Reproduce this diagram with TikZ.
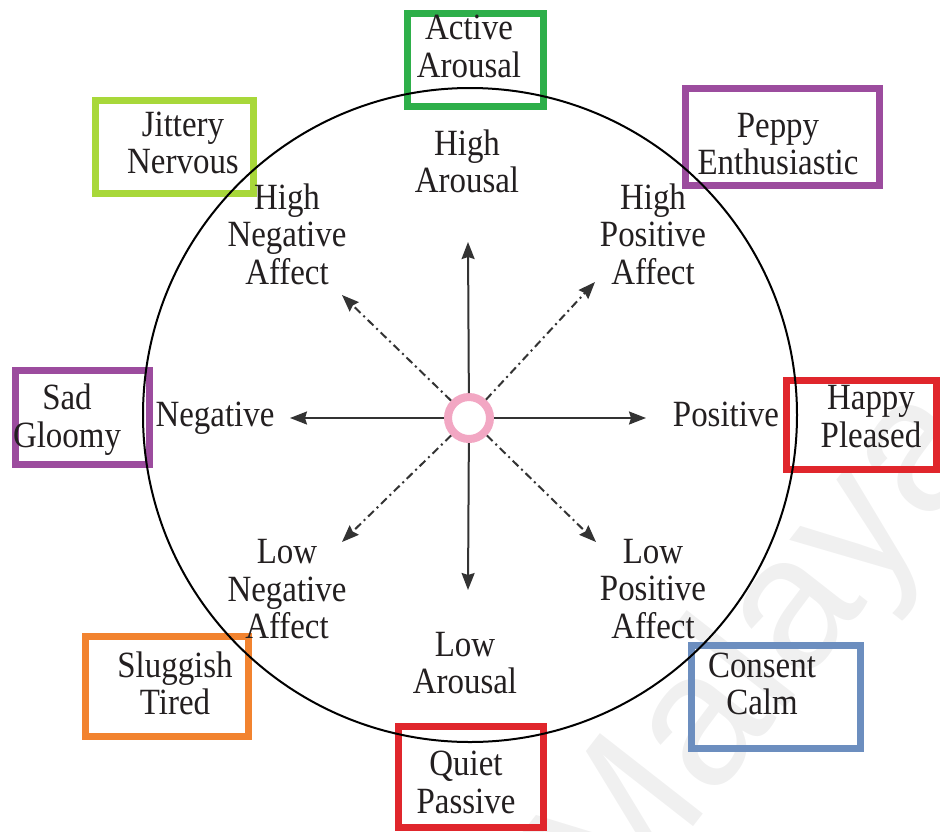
\documentclass[tikz,border=0pt]{standalone}
\usepackage{fontspec}
\setmainfont{Liberation Serif}[FakeStretch=0.89]
\newfontfamily\wmfont{Liberation Sans}
\usetikzlibrary{arrows.meta}
\definecolor{cgreen}{HTML}{2EAF4A}
\definecolor{clime}{HTML}{A8D83A}
\definecolor{cpurple}{HTML}{9C4C9E}
\definecolor{cred}{HTML}{E0262C}
\definecolor{corange}{HTML}{F2832F}
\definecolor{cblue}{HTML}{6C8EBF}
\definecolor{cpink}{HTML}{F2A7C3}
\definecolor{txt}{HTML}{231F20}
\definecolor{arrowc}{HTML}{333333}
\begin{document}
\begin{tikzpicture}[x=1pt,y=-1pt,
  lbl/.style={font=\fontsize{37}{37.5}\selectfont, align=center, inner sep=0pt, text=txt},
  box/.style={draw=#1, line width=7pt, rectangle, inner sep=0pt, outer sep=0pt},
  axis/.style={draw=arrowc, line width=2pt, -{Stealth[length=17pt,width=13pt,inset=2pt]}},
  diag/.style={axis, dash pattern=on 8pt off 4pt on 2pt off 4pt}
]
\useasboundingbox (0,0) rectangle (940,831);
\fill[white] (0,0) rectangle (940,831);
% watermark
\node[font=\wmfont\fontsize{190}{190}\selectfont, text=black, opacity=0.06, rotate=52, inner sep=0pt] (wm) at (765,655) {Malaya};
% boxes
\node[box=cgreen, minimum width=136pt, minimum height=93pt] (bActive) at (475.5,60) {};
\node[box=clime, minimum width=158pt, minimum height=93pt] (bJittery) at (174.5,147) {};
\node[box=cpurple, minimum width=194pt, minimum height=97pt] (bPeppy) at (782.5,137) {};
\node[box=cpurple, minimum width=134pt, minimum height=94pt] (bSad) at (82.5,417.5) {};
\node[box=cred, minimum width=150pt, minimum height=89pt] (bHappy) at (861.5,425) {};
\node[box=corange, minimum width=163pt, minimum height=100pt] (bSluggish) at (167,686.5) {};
\node[box=cblue, minimum width=169pt, minimum height=103pt] (bConsent) at (776,697) {};
\node[box=cred, minimum width=145pt, minimum height=101pt] (bQuiet) at (471,777) {};
% big circle
\node[circle, draw=black, line width=2pt, minimum size=654pt, inner sep=0pt] (big) at (470,415) {};
% centre ring
\node[circle, draw=cpink, line width=8pt, fill=white, minimum size=42pt, inner sep=0pt] (ring) at (469,418) {};
% arrow tips
\coordinate (tU) at (468,242);
\coordinate (tD) at (468,590);
\coordinate (tL) at (290,418);
\coordinate (tR) at (646,418);
\coordinate (tUL) at (342,295);
\coordinate (tUR) at (595,282);
\coordinate (tDL) at (342,542);
\coordinate (tDR) at (596,542);
\draw[axis] (ring) -- (tU);
\draw[axis] (ring) -- (tD);
\draw[axis] (ring) -- (tL);
\draw[axis] (ring) -- (tR);
\draw[diag] (ring) -- (tUL);
\draw[diag] (ring) -- (tUR);
\draw[diag] (ring) -- (tDL);
\draw[diag] (ring) -- (tDR);
% box texts
\node[lbl] (tActive) at (469,51) {\strut Active\\\strut Arousal};
\node[lbl] (tJittery) at (183,147.5) {\strut Jittery\\\strut Nervous};
\node[lbl] (tPeppy) at (778,148.5) {\strut Peppy\\\strut Enthusiastic};
\node[lbl] (tSad) at (67,421) {\strut Sad\\\strut Gloomy};
\node[lbl] (tHappy) at (871,421) {\strut Happy\\\strut Pleased};
\node[lbl] (tSluggish) at (175,688.5) {\strut Sluggish\\\strut Tired};
\node[lbl] (tConsent) at (762,688.5) {\strut Consent\\\strut Calm};
\node[lbl] (tQuiet) at (466,787) {\strut Quiet\\\strut Passive};
% inner labels
\node[lbl] (lHA) at (467,166.5) {\strut High\\\strut Arousal};
\node[lbl] (lHNA) at (287,239) {\strut High\\\strut Negative\\\strut Affect};
\node[lbl] (lHPA) at (653,239) {\strut High\\\strut Positive\\\strut Affect};
\node[lbl] (lNeg) at (215,418.5) {\strut Negative};
\node[lbl] (lPos) at (726,418.5) {\strut Positive};
\node[lbl] (lLNA) at (287,593.5) {\strut Low\\\strut Negative\\\strut Affect};
\node[lbl] (lLPA) at (653,593) {\strut Low\\\strut Positive\\\strut Affect};
\node[lbl] (lLA) at (465,667.5) {\strut Low\\\strut Arousal};
\end{tikzpicture}
\end{document}
